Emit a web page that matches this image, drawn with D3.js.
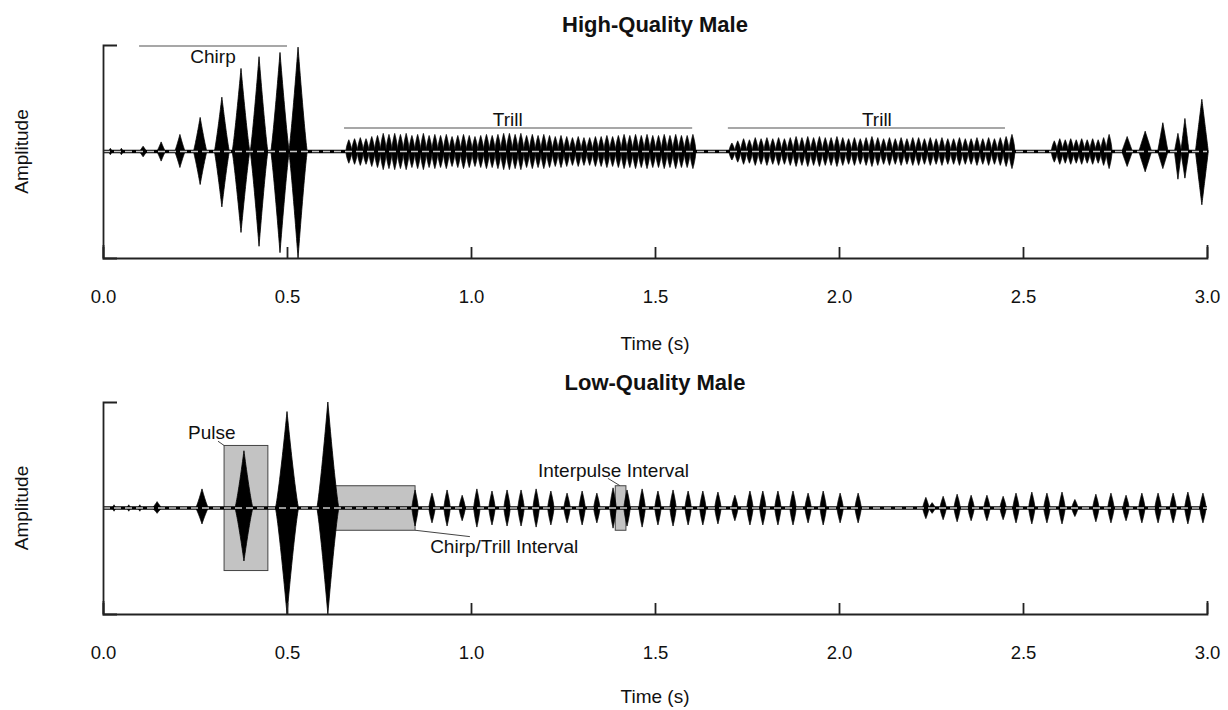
<!DOCTYPE html>
<html><head><meta charset="utf-8">
<script src="https://cdn.jsdelivr.net/npm/d3@7"></script>
<style>
body{margin:0;background:#fff}
text{font-family:"Liberation Sans",Arial,Helvetica,sans-serif;fill:#111}
</style>
</head><body>
<svg id="chart" width="1228" height="710"></svg>
<script>
// ---------------- DATA ----------------
const xTickValues = [0, 0.5, 1.0, 1.5, 2.0, 2.5, 3.0];
const panelTitles = ["High-Quality Male", "Low-Quality Male"];
const xAxisTitle = "Time (s)";
const yAxisTitle = "Amplitude";

// High-quality male: chirp pulses (time s, upper amp, lower amp, width s)
const hqChirpT  = [0.020, 0.050, 0.109, 0.158, 0.209, 0.264, 0.323, 0.375, 0.424, 0.481, 0.530];
const hqChirpUp = [0.03, 0.03, 0.05, 0.09, 0.16, 0.32, 0.51, 0.78, 0.89, 0.93, 0.98];
const hqChirpDn = [0.03, 0.03, 0.05, 0.09, 0.15, 0.31, 0.52, 0.76, 0.89, 0.95, 1.00];
const hqChirpW  = [0.012, 0.012, 0.022, 0.024, 0.029, 0.037, 0.041, 0.048, 0.048, 0.050, 0.050];

// High-quality male: trills (first/last pulse time, pulse amplitudes)
const hqTrill1Span = [0.668, 1.603];
const hqTrill1Amp = [0.11,0.12,0.13,0.12,0.14,0.15,0.17,0.16,0.17,0.16,
  0.17,0.15,0.16,0.17,0.15,0.16,0.15,0.16,0.14,0.15,
  0.16,0.15,0.14,0.15,0.16,0.15,0.16,0.17,0.17,0.16,
  0.17,0.15,0.16,0.15,0.16,0.15,0.14,0.15,0.14,0.13,
  0.14,0.13,0.13,0.14,0.14,0.15,0.14,0.15,0.16,0.15,
  0.16,0.15,0.16,0.15,0.15,0.16,0.15,0.16,0.15,0.15,0.16];
const hqTrill2Span = [1.709, 2.470];
const hqTrill2Amp = [0.08,0.10,0.12,0.11,0.13,0.12,0.13,0.12,0.13,0.12,
  0.13,0.14,0.13,0.14,0.13,0.14,0.13,0.13,0.14,0.13,
  0.12,0.13,0.12,0.13,0.14,0.13,0.12,0.13,0.12,0.13,
  0.12,0.13,0.13,0.12,0.13,0.12,0.13,0.12,0.12,0.13,
  0.12,0.12,0.13,0.12,0.13,0.12,0.13,0.14,0.16];
const hqTrill3Span = [2.585, 2.734];
const hqTrill3Amp = [0.10,0.12,0.11,0.12,0.11,0.12,0.11,0.12,0.11,0.13,0.16];

// High-quality male: closing pulses
const hqEndT  = [2.783, 2.832, 2.880, 2.921, 2.940, 2.986];
const hqEndUp = [0.14, 0.19, 0.27, 0.17, 0.31, 0.49];
const hqEndDn = [0.14, 0.19, 0.16, 0.26, 0.25, 0.50];
const hqEndW  = [0.029, 0.035, 0.028, 0.019, 0.022, 0.035];

// High-quality male: annotation bars
const hqBarLabels = ["Chirp", "Trill", "Trill"];
const hqBarStart  = [0.098, 0.655, 1.698];
const hqBarEnd    = [0.500, 1.601, 2.451];
const hqBarAmp    = [0.99, 0.22, 0.22];

// Low-quality male: chirp pulses
const lqChirpT  = [0.030, 0.070, 0.100, 0.147, 0.269, 0.383, 0.500, 0.611];
const lqChirpUp = [0.03, 0.03, 0.03, 0.06, 0.18, 0.54, 0.91, 1.00];
const lqChirpDn = [0.03, 0.03, 0.03, 0.05, 0.15, 0.50, 1.00, 1.00];
const lqChirpW  = [0.012, 0.012, 0.012, 0.027, 0.035, 0.049, 0.063, 0.060];

// Low-quality male: trill pulses
const lqTrillT = [0.848,0.894,0.935,0.976,1.016,1.057,1.098,1.136,1.177,1.217,
  1.261,1.302,1.342,1.386,1.424,1.465,1.508,1.549,1.590,1.630,
  1.671,1.717,1.758,1.793,1.834,1.875,1.916,1.957,2.003,2.052,
  2.236,2.253,2.283,2.321,2.359,2.402,2.446,2.481,2.524,2.565,
  2.606,2.641,2.698,2.739,2.780,2.823,2.867,2.908,2.948,2.989];
const lqTrillAmp = [0.17,0.14,0.17,0.12,0.18,0.16,0.17,0.17,0.18,0.16,
  0.14,0.16,0.14,0.19,0.17,0.18,0.16,0.17,0.16,0.16,
  0.15,0.12,0.16,0.16,0.16,0.16,0.14,0.16,0.14,0.14,
  0.10,0.05,0.11,0.13,0.12,0.12,0.11,0.14,0.15,0.14,
  0.15,0.08,0.13,0.14,0.12,0.14,0.14,0.14,0.15,0.14];

// Low-quality male: highlighted intervals (start s, end s, half-height amp)
const lqBoxLabels = ["Pulse", "Chirp/Trill Interval", "Interpulse Interval"];
const lqBoxStart  = [0.329, 0.620, 1.392];
const lqBoxEnd    = [0.448, 0.848, 1.421];
const lqBoxAmp    = [0.59, 0.21, 0.21];

// ---------------- LAYOUT ----------------
const svg = d3.select("#chart");
const FONT = 19;
const x = d3.scaleLinear().domain([0, 3]).range([103, 1207]);

const panels = [
  {yRange: [258, 45], titleY: 32, labelY: 350},
  {yRange: [614, 402], titleY: 390, labelY: 703}
];

const shapeU = d3.range(-1, 1.0001, 0.04);
function pulsePath(y, p, k) {
  const pts = shapeU.map(u => {
    const f = Math.pow(1 - Math.abs(u), k);
    return {t: p.t + u * p.w / 2, up: p.up * f, dn: p.dn * f};
  });
  return d3.area().x(d => x(d.t)).y0(d => y(-d.dn)).y1(d => y(d.up))(pts);
}
function drawPulses(g, y, pulses, k) {
  g.append("g").selectAll("path").data(pulses).join("path")
    .attr("d", p => pulsePath(y, p, k))
    .attr("fill", "#000").attr("stroke", "#000").attr("stroke-width", 0.8);
}
function trillPulses(span, amps, w) {
  const s = d3.scalePoint().domain(d3.range(amps.length)).range(span);
  return amps.map((a, i) => ({t: s(i), up: a, dn: a, w: w}));
}
function zip(T, U, D, W) { return T.map((t, i) => ({t, up: U[i], dn: D[i], w: W[i]})); }

function drawFrame(pi, y) {
  const P = panels[pi];
  const g = svg.append("g");
  g.append("text").attr("x", 655).attr("y", P.titleY).attr("text-anchor", "middle")
    .attr("font-weight", "bold").attr("font-size", 22).text(panelTitles[pi]);
  g.append("text").attr("x", 655).attr("y", P.labelY).attr("text-anchor", "middle")
    .attr("font-size", FONT).text(xAxisTitle);
  const yc = (P.yRange[0] + P.yRange[1]) / 2;
  g.append("text").attr("transform", `translate(28,${yc}) rotate(-90)`)
    .attr("text-anchor", "middle").attr("font-size", FONT).text(yAxisTitle);
  return g;
}
function drawAxes(g, y, pi) {
  const P = panels[pi];
  const xa = g.append("g").attr("transform", `translate(0,${P.yRange[0]})`)
    .call(d3.axisBottom(x).tickValues(xTickValues).tickFormat(d3.format(".1f"))
      .tickSizeInner(-11).tickSizeOuter(-13).tickPadding(32));
  xa.selectAll("path,line").attr("stroke", "#222").attr("stroke-width", 1.8);
  xa.selectAll("text").attr("font-size", 18.5).attr("fill", "#111")
    .style("font-family", '"Liberation Sans",Arial,sans-serif');
  const ya = g.append("g").attr("transform", `translate(${x(0)},0)`)
    .call(d3.axisLeft(y).tickValues([]).tickSizeOuter(-14));
  ya.selectAll("path").attr("stroke", "#222").attr("stroke-width", 1.8);
}
function drawBaseline(g, y) {
  g.append("line").attr("x1", x(0)).attr("x2", x(3)).attr("y1", y(0)).attr("y2", y(0))
    .attr("stroke", "#000").attr("stroke-width", 3.4);
  g.append("line").attr("x1", x(0)).attr("x2", x(3)).attr("y1", y(0)).attr("y2", y(0))
    .attr("stroke", "#c8c8c8").attr("stroke-width", 1.4).attr("stroke-dasharray", "7,4");
}

// ---------- Panel 1 ----------
{
  const y = d3.scaleLinear().domain([-1, 1]).range(panels[0].yRange);
  const g = drawFrame(0, y);
  const labelT = [0.299, 1.100, 2.103];
  const labelAmp = [0.83, 0.24, 0.24];
  hqBarLabels.forEach((lab, i) => {
    g.append("line").attr("x1", x(hqBarStart[i])).attr("x2", x(hqBarEnd[i]))
      .attr("y1", y(hqBarAmp[i])).attr("y2", y(hqBarAmp[i]))
      .attr("stroke", "#8a8a8a").attr("stroke-width", 1.6);
    g.append("text").attr("x", x(labelT[i])).attr("y", y(labelAmp[i]))
      .attr("text-anchor", "middle").attr("font-size", FONT).attr("fill", "#333").text(lab);
  });
  drawPulses(g, y, zip(hqChirpT, hqChirpUp, hqChirpDn, hqChirpW), 1.15);
  drawPulses(g, y, trillPulses(hqTrill1Span, hqTrill1Amp, 0.0155), 0.6);
  drawPulses(g, y, trillPulses(hqTrill2Span, hqTrill2Amp, 0.0155), 0.6);
  drawPulses(g, y, trillPulses(hqTrill3Span, hqTrill3Amp, 0.0155), 0.6);
  drawPulses(g, y, zip(hqEndT, hqEndUp, hqEndDn, hqEndW), 1.0);
  drawBaseline(g, y);
  drawAxes(g, y, 0);
}

// ---------- Panel 2 ----------
{
  const y = d3.scaleLinear().domain([-1, 1]).range(panels[1].yRange);
  const g = drawFrame(1, y);
  lqBoxLabels.forEach((lab, i) => {
    g.append("rect").attr("x", x(lqBoxStart[i])).attr("y", y(lqBoxAmp[i]))
      .attr("width", x(lqBoxEnd[i]) - x(lqBoxStart[i]))
      .attr("height", y(-lqBoxAmp[i]) - y(lqBoxAmp[i]))
      .attr("fill", "#c3c3c3").attr("stroke", "#444").attr("stroke-width", 1);
  });
  const ann = [
    {tx: 0.231, ta: 0.65, l: [[0.3125, 0.63], [0.329, 0.59]]},
    {tx: 0.889, ta: -0.42, l: [[0.848, -0.21], [0.997, -0.27]]},
    {tx: 1.182, ta: 0.29, l: [[1.372, 0.28], [1.405, 0.21]]}
  ];
  ann.forEach((a, i) => {
    g.append("line").attr("x1", x(a.l[0][0])).attr("y1", y(a.l[0][1]))
      .attr("x2", x(a.l[1][0])).attr("y2", y(a.l[1][1]))
      .attr("stroke", "#444").attr("stroke-width", 1);
    g.append("text").attr("x", x(a.tx)).attr("y", y(a.ta))
      .attr("font-size", FONT).attr("fill", "#222").text(lqBoxLabels[i]);
  });
  drawPulses(g, y, zip(lqChirpT, lqChirpUp, lqChirpDn, lqChirpW), 1.2);
  drawPulses(g, y, lqTrillT.map((t, i) => ({t, up: lqTrillAmp[i], dn: lqTrillAmp[i], w: 0.017})), 0.75);
  drawBaseline(g, y);
  drawAxes(g, y, 1);
}
</script>
</body></html>
